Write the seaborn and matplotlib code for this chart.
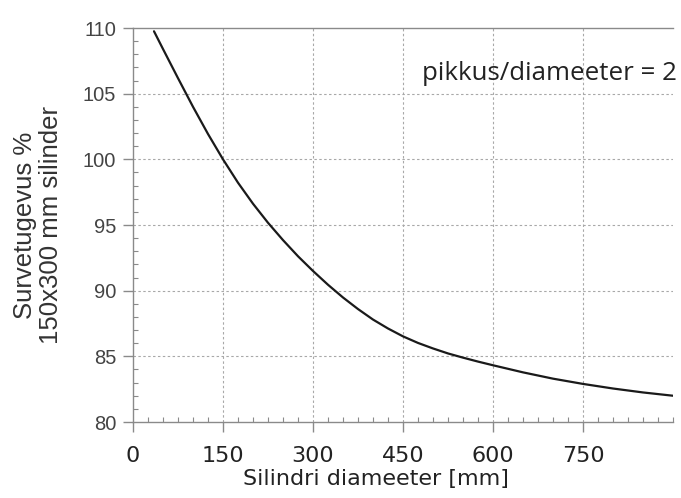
import matplotlib
matplotlib.use("Agg")
import matplotlib.pyplot as plt
import seaborn as sns
import pandas as pd
from matplotlib.ticker import MultipleLocator

# Data
diameter_mm = [35, 50, 75, 100, 125, 150, 175, 200, 225, 250, 275, 300, 325,
               350, 375, 400, 425, 450, 475, 500, 525, 550, 575, 600, 650,
               700, 750, 800, 850, 900]
strength_pct = [109.75, 108.4, 106.18, 104.0, 101.93, 100.0, 98.22, 96.62,
                95.17, 93.85, 92.62, 91.5, 90.45, 89.48, 88.6, 87.8, 87.12,
                86.52, 86.02, 85.6, 85.22, 84.9, 84.6, 84.32, 83.78, 83.3,
                82.9, 82.55, 82.25, 82.0]
x_ticks = [0, 150, 300, 450, 600, 750]
y_ticks = [80, 85, 90, 95, 100, 105, 110]

df = pd.DataFrame({"d": diameter_mm, "s": strength_pct})

sns.set_theme(style="white")
plt.rcParams['font.family'] = ['DejaVu Sans']

fig = plt.figure(figsize=(6.81, 4.98), dpi=100)
ax = fig.add_axes([133/681, 1 - 422/498, 540/681, 394/498])

sns.lineplot(data=df, x="d", y="s", ax=ax, color="#1a1a1a", linewidth=1.6)

ax.set_xlim(0, 900)
ax.set_ylim(80, 110)
ax.set_xticks(x_ticks)
ax.set_yticks(y_ticks)
ax.xaxis.set_minor_locator(MultipleLocator(25))
ax.yaxis.set_minor_locator(MultipleLocator(1))

grid_kw = dict(color="#a8a8a8", linestyle=(0, (2.2, 2.2)), linewidth=0.8)
for xv in x_ticks[1:]:
    ax.axvline(xv, **grid_kw, zorder=0)
for yv in y_ticks[1:-1]:
    ax.axhline(yv, **grid_kw, zorder=0)

for side in ["left", "bottom", "top"]:
    ax.spines[side].set_visible(True)
    ax.spines[side].set_color("#8a8a8a")
    ax.spines[side].set_linewidth(1.0)
ax.spines["right"].set_visible(False)

ax.tick_params(axis="both", which="major", direction="out", length=7,
               width=1.0, color="#8a8a8a")
ax.tick_params(axis="both", which="minor", direction="in", length=3.5,
               width=0.8, color="#8a8a8a")
ax.tick_params(axis="x", which="both", top=False, bottom=True)
ax.tick_params(axis="y", which="both", left=True, right=False)
ax.tick_params(axis="x", which="major", labelsize=16, pad=10, labelcolor="#222222")
ax.tick_params(axis="y", which="major", labelsize=14.5, pad=5, labelcolor="#444444")
for lab in ax.get_yticklabels():
    lab.set_fontfamily(["Liberation Sans", "DejaVu Sans"])

ax.set_xlabel("Silindri diameeter [mm]", fontsize=16, color="#222222")
ax.xaxis.set_label_coords((376 - 133) / 540, (422 - 479) / 394)
ax.xaxis.label.set_va("center")

ax.set_ylabel("Survetugevus %\n150x300 mm silinder", fontsize=18.5,
              color="#333333", family=["Liberation Sans", "DejaVu Sans"],
              linespacing=1.15)
ax.yaxis.set_label_coords((38 - 133) / 540, 0.5)
ax.yaxis.label.set_va("center")

ax.text(0.535, 0.885, "pikkus/diameeter = 2", transform=ax.transAxes,
        fontsize=18.6, color="#222222", family=["Open Sans", "DejaVu Sans"],
        ha="left", va="center")

fig.savefig("out.png", dpi=100)
